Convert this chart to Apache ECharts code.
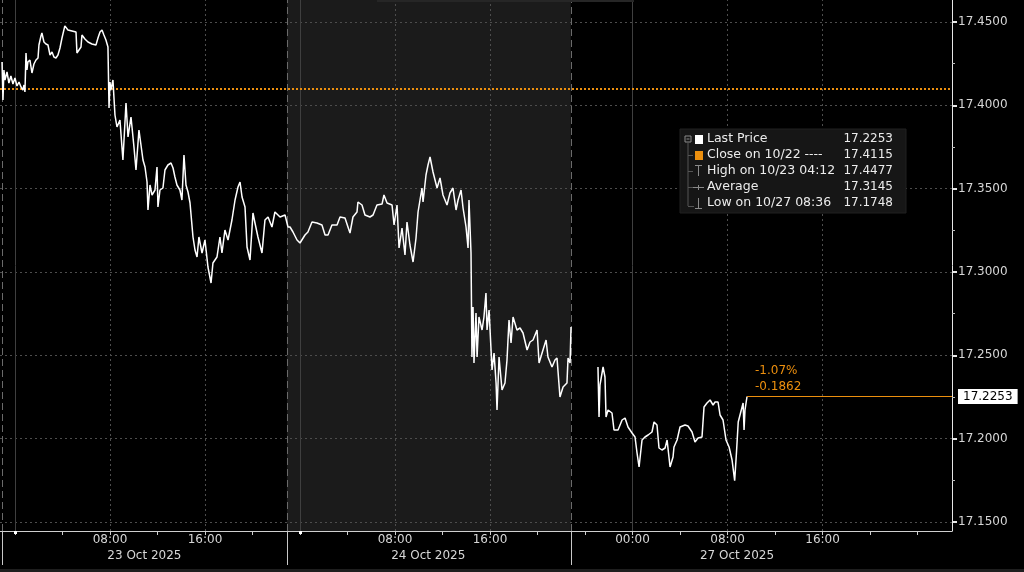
<!DOCTYPE html>
<html>
<head>
<meta charset="utf-8">
<script src="https://cdn.jsdelivr.net/npm/echarts@6/dist/echarts.min.js"></script>
<style>
html,body{margin:0;padding:0;background:#000;}
#c{width:1024px;height:572px;}
</style>
</head>
<body>
<div id="c"></div>
<script>
// x values are trading-session hours: 0 = 23 Oct 00:00, 24 = 24 Oct 00:00, 52 = 27 Oct 00:00 (weekend compressed)
const seg1Hours = [-1.09,-1.01,-0.93,-0.84,-0.67,-0.51,-0.34,-0.17,0,0.17,
  0.34,0.51,0.67,0.76,0.84,0.93,1.01,1.09,1.26,1.43,
  1.6,1.77,1.94,2.02,2.19,2.27,2.44,2.61,2.78,2.95,
  3.12,3.28,3.45,3.62,3.79,3.96,4.2,4.46,4.8,5.14,
  5.22,5.39,5.56,5.64,5.89,6.15,6.48,6.82,6.99,7.16,
  7.33,7.49,7.66,7.83,7.92,8,8.08,8.25,8.42,8.59,
  8.84,9.09,9.35,9.52,9.77,10.02,10.19,10.44,10.78,10.95,
  11.12,11.2,11.37,11.54,11.79,11.96,12.04,12.21,12.46,12.63,
  12.88,13.14,13.31,13.47,13.64,13.89,14.06,14.23,14.4,14.57,
  14.74,14.99,15.16,15.33,15.49,15.75,16,16.25,16.51,16.67,
  17.01,17.26,17.43,17.68,17.94,18.27,18.53,18.78,18.95,19.12,
  19.37,19.54,19.79,20.04,20.21,20.46,20.8,21.05,21.31,21.64,
  21.89,22.32,22.74,22.99];
const seg1Prices = [17.4260,17.4032,17.4212,17.4152,17.4200,17.4134,17.4176,17.4128,17.4164,17.4116,
  17.4140,17.4110,17.4092,17.4122,17.4080,17.4314,17.4212,17.4260,17.4272,17.4194,
  17.4248,17.4272,17.4284,17.4362,17.4416,17.4434,17.4380,17.4368,17.4362,17.4302,
  17.4320,17.4290,17.4284,17.4302,17.4344,17.4404,17.4477,17.4452,17.4446,17.4440,
  17.4314,17.4332,17.4350,17.4422,17.4398,17.4380,17.4368,17.4362,17.4404,17.4440,
  17.4452,17.4422,17.4392,17.4350,17.3984,17.4140,17.4092,17.4152,17.3942,17.3870,
  17.3912,17.3672,17.4014,17.3810,17.3930,17.3750,17.3612,17.3852,17.3672,17.3630,
  17.3540,17.3372,17.3522,17.3462,17.3492,17.3630,17.3390,17.3492,17.3504,17.3612,
  17.3642,17.3654,17.3624,17.3570,17.3522,17.3492,17.3432,17.3702,17.3522,17.3480,
  17.3414,17.3210,17.3132,17.3090,17.3210,17.3114,17.3192,17.3030,17.2934,17.3054,
  17.3090,17.3210,17.3114,17.3252,17.3192,17.3312,17.3432,17.3510,17.3540,17.3450,
  17.3390,17.3150,17.3072,17.3354,17.3294,17.3210,17.3114,17.3312,17.3330,17.3270,
  17.3360,17.3330,17.3342,17.3270];
const seg2Hours = [23.16,23.41,23.75,24,24.42,24.67,25.01,25.43,25.85,26.11,
  26.36,26.69,27.12,27.37,27.79,28.04,28.21,28.46,28.8,28.88,
  29.22,29.47,29.89,30.15,30.48,30.91,31.07,31.33,31.75,31.92,
  32.17,32.34,32.59,32.84,33.01,33.26,33.52,33.77,33.94,34.27,
  34.36,34.61,34.78,34.95,35.2,35.54,35.79,36.04,36.38,36.63,
  36.88,37.14,37.31,37.56,37.73,37.98,38.15,38.23,38.4,38.48,
  38.57,38.65,38.82,38.91,39.07,39.33,39.49,39.66,39.75,39.92,
  40.17,40.34,40.51,40.59,40.76,41.01,41.26,41.43,41.6,41.77,
  41.94,42.27,42.53,42.78,43.12,43.37,43.62,43.96,44.13,44.46,
  44.72,44.88,45.22,45.47,45.64,45.89,46.15,46.48,46.57,46.74,
  46.82];
const seg2Prices = [17.3270,17.3240,17.3192,17.3174,17.3222,17.3240,17.3300,17.3294,17.3282,17.3222,
  17.3222,17.3282,17.3282,17.3330,17.3324,17.3270,17.3234,17.3330,17.3360,17.3420,
  17.3402,17.3342,17.3330,17.3342,17.3402,17.3408,17.3462,17.3414,17.3402,17.3282,
  17.3402,17.3144,17.3264,17.3102,17.3300,17.3162,17.3060,17.3204,17.3360,17.3504,
  17.3420,17.3582,17.3642,17.3690,17.3600,17.3504,17.3564,17.3462,17.3402,17.3474,
  17.3504,17.3372,17.3432,17.3492,17.3384,17.3270,17.3144,17.3432,17.3114,17.2490,
  17.2790,17.2454,17.2754,17.2490,17.2730,17.2652,17.2730,17.2874,17.2652,17.2772,
  17.2412,17.2514,17.2334,17.2172,17.2490,17.2292,17.2334,17.2472,17.2712,17.2574,
  17.2730,17.2652,17.2664,17.2634,17.2532,17.2580,17.2592,17.2652,17.2454,17.2532,
  17.2592,17.2490,17.2430,17.2472,17.2484,17.2250,17.2310,17.2334,17.2484,17.2454,
  17.2670];
const seg3Hours = [49.09,49.18,49.26,49.52,49.68,49.77,49.94,50.27,50.44,50.78,
  51.12,51.37,51.62,51.96,52.21,52.38,52.55,52.8,53.05,53.31,
  53.64,53.81,54.06,54.23,54.48,54.74,54.91,55.16,55.41,55.49,
  55.75,56,56.42,56.67,57.01,57.26,57.52,57.85,58.02,58.27,
  58.53,58.78,58.95,59.2,59.37,59.62,59.87,60.13,60.38,60.6,
  60.75,60.9,61.05,61.31,61.39,61.47,61.64];
const seg3Prices = [17.2430,17.2130,17.2322,17.2430,17.2370,17.2130,17.2172,17.2154,17.2052,17.2052,
  17.2112,17.2124,17.2070,17.2034,17.2010,17.1914,17.1830,17.1992,17.2010,17.2022,
  17.2040,17.2100,17.2082,17.1944,17.1932,17.1944,17.1992,17.1830,17.1890,17.1950,
  17.1992,17.2070,17.2082,17.2076,17.2040,17.1980,17.2004,17.2010,17.2190,17.2214,
  17.2232,17.2202,17.2220,17.2220,17.2142,17.2112,17.1992,17.1950,17.1872,17.1748,
  17.1914,17.2100,17.2100,17.2214,17.2052,17.2172,17.2253];

const yMajorTicks = [17.15,17.2,17.25,17.3,17.35,17.4,17.45];
const yMinorTicks = [17.175,17.225,17.275,17.325,17.375,17.425];
const xTickHours = [0,4,8,12,16,20,24,28,32,36,40,44,48,52,56,60,64,68,72,76];
const timeTickHours = [8,16,32,40,52,60,68];
const timeTickLabels = ['08:00','16:00','08:00','16:00','00:00','08:00','16:00'];
const dateLabelHours = [10.9,34.8,60.8];
const dateLabels = ['23 Oct 2025','24 Oct 2025','27 Oct 2025'];
const midnightHours = [0,24,52];
const midnightMarkerHours = [0,24];
const sessionBreakHours = [-1.1,22.9,46.8];
const gridHours = [8,16,32,40,60,68];
const shadedSession = [22.9,46.8];

const legendLabels = ['Last Price','Close on 10/22 ----','High on 10/23 04:12','Average','Low on 10/27 08:36'];
const legendValues = [17.2253,17.4115,17.4477,17.3145,17.1748];
const closePrice = 17.4115;
const lastPrice = 17.2253;
const lastHour = 61.64;

const X_MIN = -1.26, X_MAX = 78.9, Y_MIN = 17.1446, Y_MAX = 17.4632;
const FONT = 'DejaVu Sans';
const TXT = '#d6d6d6';
const ORANGE = '#ec8f0e';

const priceData = [];
seg1Hours.forEach((h,i)=>priceData.push([h, seg1Prices[i]]));
seg2Hours.forEach((h,i)=>priceData.push([h, seg2Prices[i]]));
priceData.push([48,'-']);
seg3Hours.forEach((h,i)=>priceData.push([h, seg3Prices[i]]));

const chg = lastPrice - closePrice;
const pct = chg / closePrice * 100;

const baseX = {type:'value', min:X_MIN, max:X_MAX, gridIndex:0, position:'bottom', splitLine:{show:false}};

const gridMarks = [];
yMajorTicks.forEach(v=>gridMarks.push({yAxis:v, lineStyle:{color:'#4d4d4d', type:[2,3], width:1}}));
gridHours.forEach(v=>gridMarks.push({xAxis:v, lineStyle:{color:'#4d4d4d', type:[2,3], width:1}}));
midnightHours.forEach(v=>gridMarks.push({xAxis:v, lineStyle:{color:'#3f3f3f', type:'solid', width:1}}));
sessionBreakHours.forEach(v=>gridMarks.push({xAxis:v, lineStyle:{color:'#6a6a6a', type:[7,4], width:1}}));
gridMarks.push({yAxis:closePrice, lineStyle:{color:ORANGE, type:[2,2], width:2}});

// legend graphics
const lg = [];
const LX = 680, LY = 129, ROW = 16, R0 = 139;
lg.push({type:'rect', shape:{x:LX, y:LY, width:226, height:84}, style:{fill:'#161616', stroke:'#202020'}, z:100});
legendLabels.forEach((t,i)=>{
  lg.push({type:'text', x:707, y:R0+i*ROW, z:101, style:{text:t, fill:'#ececec', font:'12.5px "DejaVu Sans"', verticalAlign:'middle', align:'left'}});
  lg.push({type:'text', x:893, y:R0+i*ROW, z:101, style:{text:legendValues[i].toFixed(4), fill:'#ececec', font:'12px "DejaVu Sans"', verticalAlign:'middle', align:'right'}});
});
const G = '#8a8a8a';
// tree
lg.push({type:'rect', shape:{x:685, y:R0-3, width:6, height:6}, style:{fill:'none', stroke:G, lineWidth:1}, z:101});
lg.push({type:'line', shape:{x1:686.5, y1:R0, x2:689.5, y2:R0}, style:{stroke:G}, z:101});
lg.push({type:'line', shape:{x1:688, y1:R0+3, x2:688, y2:R0+4*ROW+3}, style:{stroke:'#555'}, z:101});
[1,2,3].forEach(i=>lg.push({type:'line', shape:{x1:688, y1:R0+i*ROW+0.5, x2:693, y2:R0+i*ROW+0.5}, style:{stroke:'#555'}, z:101}));
lg.push({type:'line', shape:{x1:688, y1:R0+4*ROW+3.5, x2:694, y2:R0+4*ROW+3.5}, style:{stroke:'#555'}, z:101});
// icons
lg.push({type:'rect', shape:{x:695, y:R0-4, width:8, height:9}, style:{fill:'#ffffff'}, z:101});
lg.push({type:'rect', shape:{x:695, y:R0+ROW-4, width:8, height:9}, style:{fill:ORANGE}, z:101});
lg.push({type:'line', shape:{x1:695, y1:R0+2*ROW-5.5, x2:702, y2:R0+2*ROW-5.5}, style:{stroke:G}, z:101});
lg.push({type:'line', shape:{x1:698.5, y1:R0+2*ROW-5.5, x2:698.5, y2:R0+2*ROW+5}, style:{stroke:G}, z:101});
lg.push({type:'line', shape:{x1:693, y1:R0+3*ROW+0.5, x2:704, y2:R0+3*ROW+0.5}, style:{stroke:G}, z:101});
lg.push({type:'line', shape:{x1:698.5, y1:R0+3*ROW-2, x2:698.5, y2:R0+3*ROW+3}, style:{stroke:G}, z:101});
lg.push({type:'line', shape:{x1:698.5, y1:R0+4*ROW-5, x2:698.5, y2:R0+4*ROW+5.5}, style:{stroke:G}, z:101});
lg.push({type:'line', shape:{x1:695, y1:R0+4*ROW+5.5, x2:702, y2:R0+4*ROW+5.5}, style:{stroke:G}, z:101});
// frame decorations (top tab strip, bottom strip)
lg.push({type:'rect', shape:{x:377, y:0, width:257, height:2}, style:{fill:'#262626'}, z:90});
lg.push({type:'rect', shape:{x:0, y:569, width:1024, height:3}, style:{fill:'#1e1e1e'}, z:90});

const chart = echarts.init(document.getElementById('c'));
chart.setOption({
  animation:false,
  backgroundColor:'#000000',
  grid:{left:0, right:72, top:0, bottom:41, containLabel:false},
  xAxis:[
    Object.assign({}, baseX, {
      axisLine:{show:true, onZero:false, lineStyle:{color:'#cfcfcf', width:1}},
      axisTick:{show:true, customValues:xTickHours, length:4, lineStyle:{color:'#cfcfcf'}},
      axisLabel:{customValues:timeTickHours, formatter:v=>timeTickLabels[timeTickHours.indexOf(v)] || '', color:TXT, fontFamily:FONT, fontSize:12, margin:3}
    }),
    Object.assign({}, baseX, {
      axisLine:{show:false, onZero:false},
      axisTick:{show:true, customValues:sessionBreakHours, length:34, lineStyle:{color:'#c8c8c8', width:1}},
      axisLabel:{show:false}
    }),
    Object.assign({}, baseX, {
      axisLine:{show:false, onZero:false},
      axisTick:{show:false},
      axisLabel:{customValues:dateLabelHours, formatter:v=>dateLabels[dateLabelHours.indexOf(v)] || '', color:TXT, fontFamily:FONT, fontSize:12, margin:19}
    }),
    Object.assign({}, baseX, {
      axisLine:{show:false, onZero:false},
      axisTick:{show:true, customValues:midnightMarkerHours, length:3, lineStyle:{color:'#ffffff', width:3}},
      axisLabel:{show:false}
    })
  ],
  yAxis:[
    {type:'value', position:'right', min:Y_MIN, max:Y_MAX,
     axisLine:{show:true, onZero:false, lineStyle:{color:'#e6e6e6', width:1}},
     axisTick:{show:true, customValues:yMajorTicks, length:5, lineStyle:{color:'#e6e6e6', width:2}},
     axisLabel:{customValues:yMajorTicks, formatter:v=>v.toFixed(4), color:TXT, fontFamily:FONT, fontSize:12, margin:6},
     splitLine:{show:false}},
    {type:'value', position:'right', min:Y_MIN, max:Y_MAX,
     axisLine:{show:false, onZero:false},
     axisTick:{show:true, customValues:yMinorTicks, length:3, lineStyle:{color:'#bdbdbd', width:1}},
     axisLabel:{show:false},
     splitLine:{show:false}}
  ],
  series:[
    {type:'line', name:'frame', data:priceData, xAxisIndex:0, yAxisIndex:0, showSymbol:false, silent:true,
     lineStyle:{opacity:0}, z:1,
     markArea:{silent:true, z:0, itemStyle:{color:'#1b1b1b'}, data:[[{xAxis:shadedSession[0]},{xAxis:shadedSession[1]}]]},
     markLine:{silent:true, z:1, symbol:['none','none'], label:{show:false}, data:gridMarks}
    },
    {type:'line', name:'Last Price', data:priceData, xAxisIndex:0, yAxisIndex:0, showSymbol:false,
     connectNulls:false, lineStyle:{color:'#ffffff', width:1.5}, z:3,
     markLine:{silent:true, z:4, symbol:['none','none'],
       data:[
         [{coord:[lastHour,lastPrice], lineStyle:{color:ORANGE, width:1, type:'solid'},
           label:{show:true, position:'end', formatter:lastPrice.toFixed(4), backgroundColor:'#ffffff', color:'#000000',
                  padding:[2,5,1,5], fontFamily:FONT, fontSize:12, distance:6}},
          {coord:[X_MAX,lastPrice]}],
         [{coord:[lastHour,lastPrice], lineStyle:{color:ORANGE, width:1, type:'solid'},
           label:{show:true, position:'insideStartTop', formatter:pct.toFixed(2)+'%\n'+chg.toFixed(4), color:ORANGE,
                  fontFamily:FONT, fontSize:12, lineHeight:16, distance:[8,2], align:'left'}},
          {coord:[X_MAX,lastPrice]}]
       ]}
    }
  ],
  graphic:lg
});
</script>
</body>
</html>
